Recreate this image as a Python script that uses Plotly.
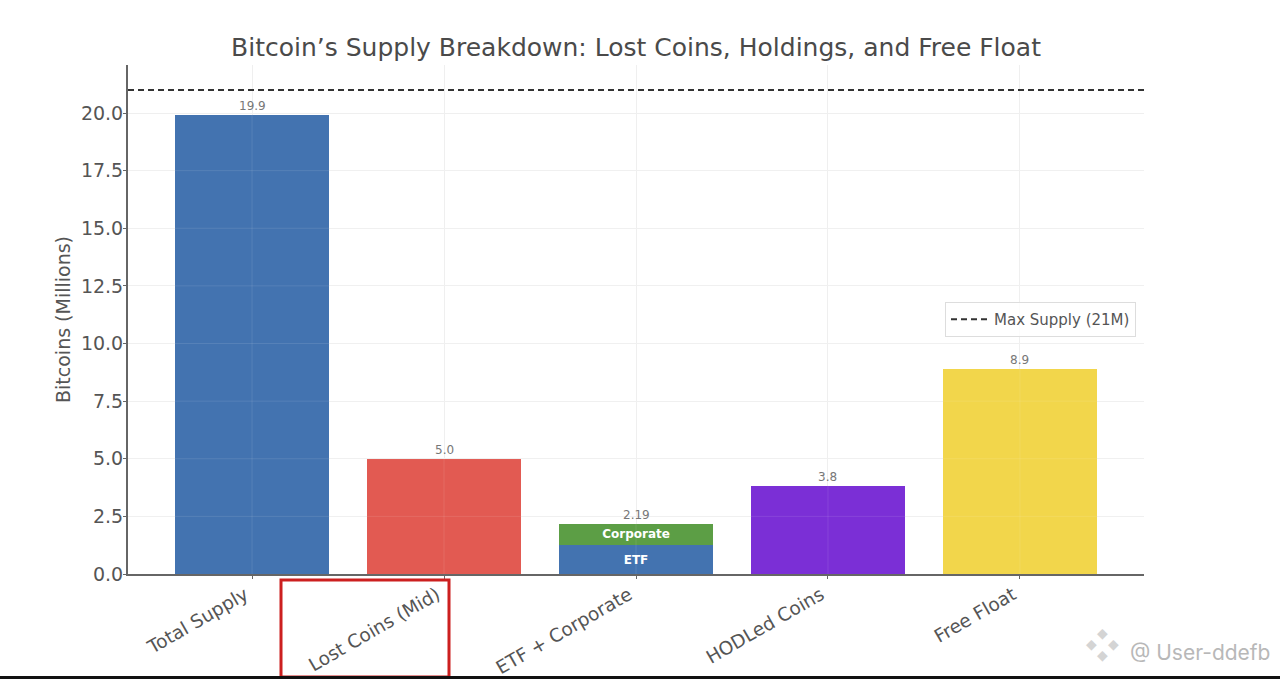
import plotly.graph_objects as go

W, H = 1280, 679
LEFT, RIGHT, TOP, BOTTOM = 128, 1144, 65, 574

categories = ["Total Supply", "Lost Coins (Mid)", "ETF + Corporate", "HODLed Coins", "Free Float"]
bar_categories = ["Total Supply", "Lost Coins (Mid)", "HODLed Coins", "Free Float"]
bar_values = [19.9, 5.0, 3.8, 8.9]
bar_colors = ["#4373b0", "#e25a52", "#7b2fd6", "#f2d64b"]
etf_value = [1.25]
corporate_value = [0.94]
stack_total = "2.19"
y_ticks = [0, 2.5, 5, 7.5, 10, 12.5, 15, 17.5, 20]
max_supply = 21

GREY = "#4a4a4a"


def px_x(v):
    return (v - LEFT) / (RIGHT - LEFT)


def px_y(v):
    return (BOTTOM - v) / (BOTTOM - TOP)


fig = go.Figure()

fig.add_trace(go.Bar(x=bar_categories, y=bar_values, marker=dict(color=bar_colors, line_width=0), width=0.8,
                     showlegend=False))
fig.add_trace(go.Bar(x=["ETF + Corporate"], y=etf_value, marker=dict(color="#4373b0", line_width=0), width=0.8,
                     showlegend=False, text=["<b>ETF</b>"], textposition="inside", insidetextanchor="middle",
                     textangle=0, textfont=dict(color="white", size=12, family="DejaVu Sans")))
fig.add_trace(go.Bar(x=["ETF + Corporate"], y=corporate_value, marker=dict(color="#5c9e45", line_width=0), width=0.8,
                     showlegend=False, text=["<b>Corporate</b>"], textposition="inside", insidetextanchor="middle",
                     textangle=0, textfont=dict(color="white", size=12, family="DejaVu Sans")))

# value labels above the bars
for c, v in zip(bar_categories, bar_values):
    fig.add_annotation(x=c, y=v, text=f"{v:.1f}", showarrow=False, yanchor="bottom",
                       font=dict(size=12, color="#777777"))
fig.add_annotation(x="ETF + Corporate", y=etf_value[0] + corporate_value[0], text=stack_total, showarrow=False,
                   yanchor="bottom", font=dict(size=12, color="#777777"))

# grid shows faintly through the bars in the original
for t in y_ticks[1:]:
    fig.add_hline(y=t, line=dict(color="rgba(255,255,255,0.10)", width=1), layer="above")
for c in categories:
    fig.add_vline(x=c, line=dict(color="rgba(255,255,255,0.10)", width=1), layer="above")

fig.add_hline(y=max_supply, line=dict(color="#333333", width=2, dash="6px,4px"), layer="above",
              showlegend=True, name="Max Supply (21M)")

# red highlight box around the second label
fig.add_shape(type="rect", xref="paper", yref="paper", x0=px_x(281), x1=px_x(449), y0=px_y(580), y1=px_y(677),
              line=dict(color="#cc1f1f", width=3))
# black edge of the screenshot
fig.add_shape(type="rect", xref="paper", yref="paper", x0=px_x(0), x1=px_x(W), y0=px_y(676), y1=px_y(H),
              line_width=0, fillcolor="#111111")

# watermark
fig.add_annotation(xref="paper", yref="paper", x=px_x(1272), y=px_y(652), xanchor="right", yanchor="middle",
                   text="@ User-ddefb", showarrow=False, font=dict(size=21, color="#b8b8b8", family="Inter"))
for dx, dy in [(-11, 0), (11, 0), (0, -11), (0, 11)]:
    fig.add_annotation(xref="paper", yref="paper", x=px_x(1110 + dx), y=px_y(654 + dy), text="◆", showarrow=False,
                       font=dict(size=14, color="#d4d4d4"))

fig.update_layout(
    width=W, height=H,
    margin=dict(l=LEFT, r=W - RIGHT, t=TOP, b=H - BOTTOM, pad=0, autoexpand=False),
    paper_bgcolor="white", plot_bgcolor="white",
    barmode="stack",
    font=dict(family="DejaVu Sans", color=GREY),
    title=dict(text="Bitcoin’s Supply Breakdown: Lost Coins, Holdings, and Free Float",
               x=636 / W, y=1 - 47 / H, xanchor="center", yanchor="middle",
               font=dict(size=25, color=GREY)),
    legend=dict(x=px_x(1136), y=px_y(302), xanchor="right", yanchor="top", bgcolor="rgba(255,255,255,0.8)",
                bordercolor="#dddddd", borderwidth=1, itemwidth=38, font=dict(size=15, color="#555555")),
)
fig.update_xaxes(categoryorder="array", categoryarray=categories, range=[-0.646, 4.646], automargin=False,
                 showline=True, linecolor="#666666", linewidth=2, ticks="outside", ticklen=3, tickcolor="#666666",
                 tickangle=-30, tickfont=dict(size=18.5, color="#555555"), ticklabelstandoff=-2, ticklabelshift=-7,
                 showgrid=True, gridcolor="#efefef")
fig.update_yaxes(range=[0, (BOTTOM - TOP) / 23.05], tickvals=y_ticks, ticktext=[f"{t:.1f}" for t in y_ticks],
                 automargin=False,
                 showline=True, linecolor="#666666", linewidth=2, ticks="outside", ticklen=3, tickcolor="#666666",
                 tickfont=dict(size=19, color="#555555"), ticklabelstandoff=-4,
                 showgrid=True, gridcolor="#efefef", zeroline=False,
                 title=dict(text="Bitcoins (Millions)", font=dict(size=19, color="#555555"), standoff=5))

fig.write_html("out.html", config=dict(displayModeBar=False), post_script="document.body.style.margin='0';")
